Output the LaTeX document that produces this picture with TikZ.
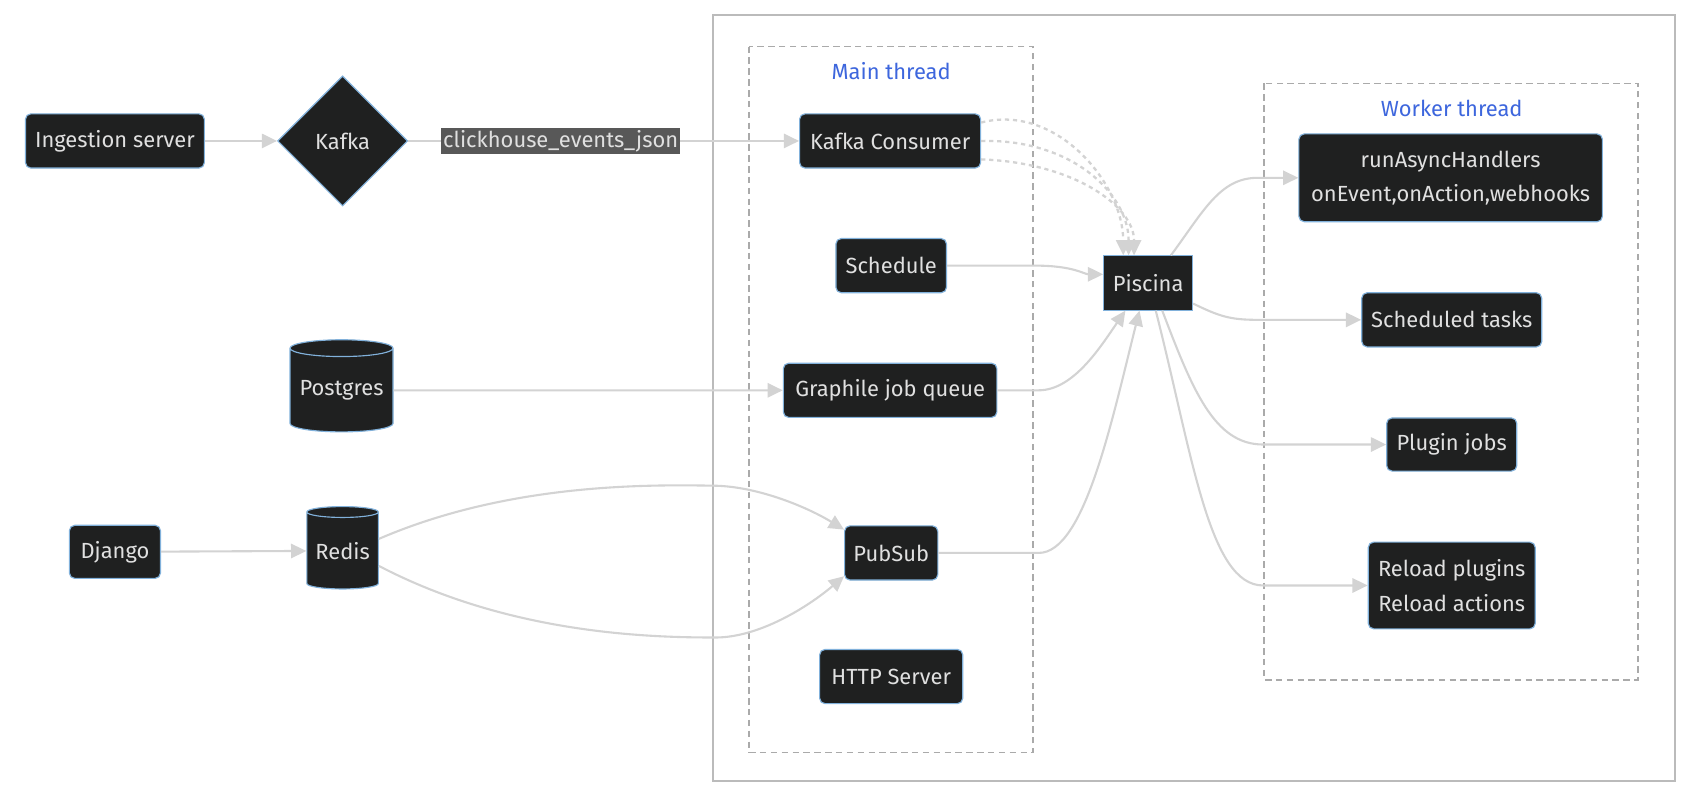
\documentclass[tikz,border=0pt]{standalone}
\usepackage{fontspec}
\setmainfont{Fira Sans}
\usetikzlibrary{shapes.geometric,arrows.meta,calc}
\definecolor{boxfill}{HTML}{1F2020}
\definecolor{boxline}{HTML}{81B1DB}
\definecolor{boxtext}{HTML}{E0E0E0}
\definecolor{linkgray}{HTML}{D3D3D3}
\definecolor{framegray}{HTML}{AAAAAA}
\definecolor{titleblue}{HTML}{3D66DD}
\definecolor{labelbg}{HTML}{585858}
\newcommand{\boxfont}{\fontsize{11.5}{18}\selectfont}
\tikzset{
	box/.style={draw=boxline, fill=boxfill, text=boxtext, rounded corners=2.8pt, line width=0.6pt, inner sep=0pt, align=center, font=\boxfont},
	db/.style={cylinder, shape border rotate=90, aspect=0.2, draw=boxline, fill=boxfill, text=boxtext, line width=0.6pt, inner sep=0pt, font=\boxfont},
	link/.style={draw=linkgray, line width=1.1pt, -{Triangle[length=8pt,width=7.5pt]}},
	dots/.style={link, line width=1.2pt, dash pattern=on 2.2pt off 2pt},
	frame/.style={draw=framegray, line width=0.8pt, dash pattern=on 3.4pt off 2.3pt},
	lbl/.style={fill=labelbg, text=boxtext, inner sep=1pt, font=\boxfont},
	ttl/.style={text=titleblue, font=\boxfont}
}
\begin{document}
\begin{tikzpicture}[x=0.02cm, y=-0.02cm]
	\fill[white] (0,0) rectangle (1568,740);
	\useasboundingbox (0,0) rectangle (1568,740);
	% frames
	\draw[draw=framegray!80, line width=1.1pt] (658,14) rectangle (1545,720);
	\draw[frame] (691,43) rectangle (953,694);
	\draw[frame] (1166,77) rectangle (1511,627);
	\node[ttl] (mainttl) at (822,66) {Main thread};
	\node[ttl] (workttl) at (1339,100) {Worker thread};
	% left side
	\node[box, minimum width=3.3cm, minimum height=1cm] (ing) at (106,130) {Ingestion server};
	\node[box, diamond, rounded corners=0pt, minimum width=2.4cm, minimum height=2.4cm] (kafka) at (316,130) {Kafka};
	\node[db, minimum width=1.9cm, minimum height=1.7cm] (pg) at (315,360) {Postgres};
	\node[box, minimum width=1.68cm, minimum height=0.98cm] (dj) at (106,509) {Django};
	\node[db, minimum width=1.32cm, minimum height=1.52cm] (redis) at (316,508) {Redis};
	% main thread
	\node[box, minimum width=3.34cm, minimum height=1cm] (kc) at (821,130) {Kafka Consumer};
	\node[box, minimum width=2.04cm, minimum height=1cm] (sched) at (822,245) {Schedule};
	\node[box, minimum width=3.94cm, minimum height=1cm] (gjq) at (821,360) {Graphile job queue};
	\node[box, minimum width=1.72cm, minimum height=1cm] (pub) at (822,510) {PubSub};
	\node[box, minimum width=2.64cm, minimum height=1cm] (http) at (822,624) {HTTP Server};
	\node[box, rounded corners=0pt, minimum width=1.64cm, minimum height=1cm] (pisc) at (1059,261) {Piscina};
	% worker thread
	\node[box, minimum width=5.6cm, minimum height=1.62cm] (run) at (1338,164) {runAsyncHandlers\\onEvent,onAction,webhooks};
	\node[box, minimum width=3.32cm, minimum height=1cm] (st) at (1339,295) {Scheduled tasks};
	\node[box, minimum width=2.4cm, minimum height=0.98cm] (pj) at (1339,410) {Plugin jobs};
	\node[box, minimum width=3.08cm, minimum height=1.6cm] (rl) at (1339,540) {Reload plugins\\Reload actions};
	% links
	\draw[link] (ing) -- (kafka);
	\draw[link] (kafka.east) -- node[lbl, pos=0.39] (topic) {clickhouse\_events\_json} (kc.west);
	\draw[link] (pg) -- (gjq);
	\draw[link] (dj) -- (redis);
	\draw[link] ($(redis.east)+(0,-11)$) .. controls (470,445) and (600,447) .. (660,448) .. controls (700,449) and (745,468) .. ($(pub.north west)+(0,4)$);
	\draw[link] ($(redis.east)+(0,14)$) .. controls (470,585) and (600,588) .. (660,588) .. controls (700,588) and (745,560) .. ($(pub.south west)+(0,-4)$);
	\draw[dots] ($(kc.east)+(0,-17)$) .. controls (975,95) and (1036,170) .. ($(pisc.north)+(-23,0)$);
	\draw[dots] (kc.east) .. controls (990,128) and (1041,180) .. ($(pisc.north)+(-18,0)$);
	\draw[dots] ($(kc.east)+(0,17)$) .. controls (990,150) and (1046,190) .. ($(pisc.north)+(-13,0)$);
	\draw[link] (sched.east) -- (955,245) .. controls (990,245) and (1000,253) .. ($(pisc.west)+(0,-8)$);
	\draw[link] (gjq.east) -- (958,360) .. controls (990,360) and (1015,320) .. ($(pisc.south)+(-21,0)$);
	\draw[link] (pub.east) -- (958,510) .. controls (1000,510) and (1025,390) .. ($(pisc.south)+(-8,0)$);
	\draw[link] ($(pisc.north)+(21,0)$) .. controls (1110,195) and (1125,164) .. (1160,164) -- (run.west);
	\draw[link] ($(pisc.east)+(0,19)$) .. controls (1125,292) and (1135,295) .. (1160,295) -- (st.west);
	\draw[link] ($(pisc.south)+(13,0)$) .. controls (1100,360) and (1120,410) .. (1165,410) -- (pj.west);
	\draw[link] ($(pisc.south)+(7,0)$) .. controls (1100,420) and (1115,540) .. (1165,540) -- (rl.west);
\end{tikzpicture}
\end{document}
